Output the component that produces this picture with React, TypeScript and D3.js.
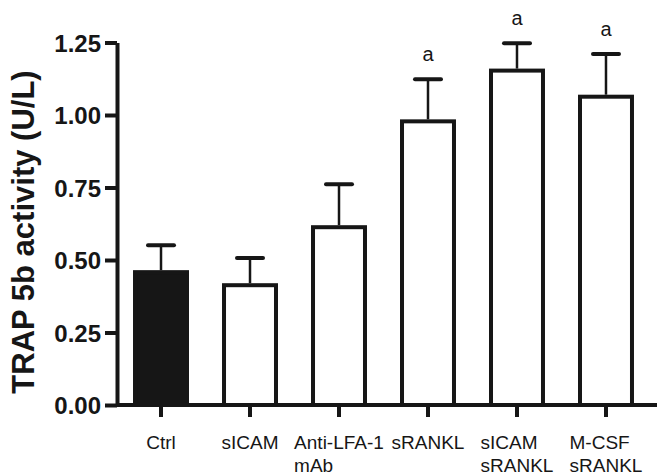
import React, { useEffect, useRef } from 'react';
import * as d3 from 'd3';

const categories = [['Ctrl'], ['sICAM'], ['Anti-LFA-1', 'mAb'], ['sRANKL'], ['sICAM', 'sRANKL'], ['M-CSF', 'sRANKL']];
const means = [0.465, 0.42, 0.62, 0.985, 1.16, 1.07];
const sems = [0.086, 0.087, 0.141, 0.138, 0.087, 0.14];
const marks = ['', '', '', 'a', 'a', 'a'];
const filled = [true, false, false, false, false, false];
const yTicks = [0, 0.25, 0.5, 0.75, 1.0, 1.25];

const INK = '#161616';
const FONT = '"Liberation Sans", Arial, Helvetica, sans-serif';

export default function App() {
  const ref = useRef<SVGSVGElement>(null);

  useEffect(() => {
    const svg = d3.select(ref.current);
    svg.selectAll('*').remove();

    const x0 = 117;
    const y = d3.scaleLinear().domain([0, 1.25]).range([405, 42.5]);
    const x = d3
      .scaleBand<number>()
      .domain(d3.range(categories.length))
      .range([x0, 650])
      .paddingInner(0.371)
      .paddingOuter(0.18);
    const bw = x.bandwidth();

    // bars
    svg
      .append('g')
      .selectAll('rect')
      .data(means)
      .join('rect')
      .attr('x', (d, i) => x(i)! + 2)
      .attr('y', d => y(d) + 2)
      .attr('width', bw - 4)
      .attr('height', d => y(0) - y(d) - 2)
      .attr('fill', (d, i) => (filled[i] ? INK : '#fff'))
      .attr('stroke', INK)
      .attr('stroke-width', 4);

    // error bars
    const err = svg.append('g').selectAll('g').data(means).join('g');
    err
      .append('line')
      .attr('x1', (d, i) => x(i)! + bw / 2)
      .attr('x2', (d, i) => x(i)! + bw / 2)
      .attr('y1', d => y(d))
      .attr('y2', (d, i) => y(d + sems[i]))
      .attr('stroke', INK)
      .attr('stroke-width', 2.5);
    err
      .append('line')
      .attr('x1', (d, i) => x(i)! + bw / 2 - 13)
      .attr('x2', (d, i) => x(i)! + bw / 2 + 13)
      .attr('y1', (d, i) => y(d + sems[i]))
      .attr('y2', (d, i) => y(d + sems[i]))
      .attr('stroke', INK)
      .attr('stroke-width', 4)
      .attr('stroke-linecap', 'round');

    // significance marks
    svg
      .append('g')
      .selectAll('text')
      .data(means)
      .join('text')
      .attr('x', (d, i) => x(i)! + bw / 2)
      .attr('y', (d, i) => y(d + sems[i]) - 18)
      .attr('text-anchor', 'middle')
      .attr('font-family', FONT)
      .attr('font-size', 20)
      .attr('fill', INK)
      .text((d, i) => marks[i]);

    // y axis
    const gy = svg
      .append('g')
      .attr('transform', `translate(${x0},0)`)
      .call(
        d3
          .axisLeft(y)
          .tickValues(yTicks)
          .tickFormat(d3.format('.2f'))
          .tickSize(12)
          .tickSizeOuter(0)
          .tickPadding(4)
      );
    gy.select('.domain').attr('stroke', INK).attr('stroke-width', 4);
    gy.selectAll('.tick line').attr('stroke', INK).attr('stroke-width', 4);
    gy.selectAll('.tick text')
      .attr('fill', INK)
      .attr('font-family', FONT)
      .attr('font-weight', 'bold')
      .attr('font-size', 24)
      .attr('dy', '0.36em');

    // x axis
    const gx = svg
      .append('g')
      .attr('transform', `translate(0,${y(0)})`)
      .call(
        d3
          .axisBottom(x)
          .tickSize(12)
          .tickFormat(() => '')
      );
    gx.select('.domain').remove();
    gx.selectAll('.tick line').attr('stroke', INK).attr('stroke-width', 4);
    gx.append('line')
      .attr('x1', x0)
      .attr('x2', 657)
      .attr('stroke', INK)
      .attr('stroke-width', 4);

    // category labels: lines left-aligned, block centred under the tick
    const labels = svg
      .append('g')
      .selectAll('text')
      .data(categories)
      .join('text')
      .attr('font-family', FONT)
      .attr('font-size', 19)
      .attr('fill', INK)
      .attr('y', 449);
    labels.each(function (lines, i) {
      const t = d3.select(this);
      lines.forEach((s, k) => {
        t.append('tspan').attr('x', 0).attr('dy', k === 0 ? 0 : 23).text(s);
      });
      const w = (this as SVGTextElement).getBBox().width;
      const cx = x(i)! + bw / 2;
      t.selectAll('tspan').attr('x', cx - w / 2);
    });

    // y title
    svg
      .append('text')
      .attr('transform', 'rotate(-90)')
      .attr('x', -232)
      .attr('y', 34)
      .attr('text-anchor', 'middle')
      .attr('font-family', FONT)
      .attr('font-weight', 'bold')
      .attr('font-size', 31)
      .attr('fill', INK)
      .text('TRAP 5b activity (U/L)');
  }, []);

  return (
    <div style={{ position: 'absolute', left: 0, top: 0 }}>
      <svg ref={ref} width={659} height={476} style={{ display: 'block', background: '#fff' }} />
    </div>
  );
}
